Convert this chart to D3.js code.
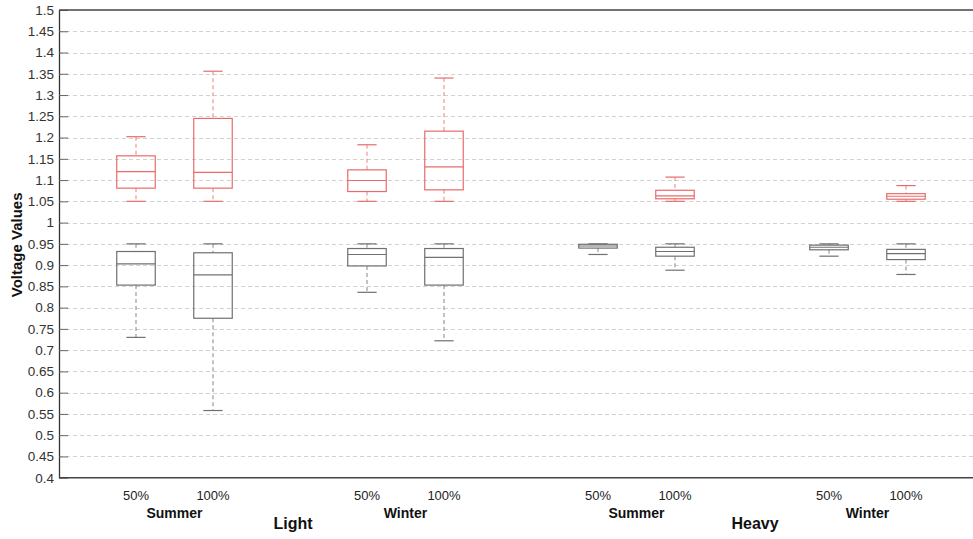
<!DOCTYPE html>
<html>
<head>
<meta charset="utf-8">
<script src="https://cdn.jsdelivr.net/npm/d3@7"></script>
<style>
  body { margin: 0; background: #fff; }
  svg { display: block; font-family: "Liberation Sans", Arial, sans-serif; }
</style>
</head>
<body>
<script>
const width = 973, height = 539;

// box positions along x (MATLAB style positions)
const positions = [1, 2, 4, 5, 7, 8, 10, 11];
const loadLabels = ["50%", "100%", "50%", "100%", "50%", "100%", "50%", "100%"];
const seasons = ["Summer", "Winter", "Summer", "Winter"];
const seasonPos = [1.5, 4.5, 7.5, 10.5];
const loadings = ["Light", "Heavy"];
const loadingPos = [3, 9];
const yTicks = d3.range(0.4, 1.5001, 0.05);

// [lower whisker, q1, median, q3, upper whisker]
const upperSeries = [
  [1.05, 1.081, 1.120, 1.157, 1.202],
  [1.05, 1.081, 1.118, 1.245, 1.356],
  [1.05, 1.073, 1.099, 1.124, 1.183],
  [1.05, 1.077, 1.131, 1.215, 1.340],
  null,
  [1.05, 1.056, 1.063, 1.076, 1.107],
  null,
  [1.05, 1.055, 1.062, 1.068, 1.087]
];
const lowerSeries = [
  [0.730, 0.853, 0.903, 0.932, 0.950],
  [0.558, 0.775, 0.877, 0.929, 0.950],
  [0.836, 0.898, 0.925, 0.939, 0.950],
  [0.722, 0.853, 0.918, 0.939, 0.950],
  [0.925, 0.940, 0.945, 0.949, 0.950],
  [0.888, 0.921, 0.932, 0.942, 0.950],
  [0.921, 0.936, 0.942, 0.947, 0.950],
  [0.878, 0.913, 0.927, 0.937, 0.950]
];

const margin = {left: 59, top: 10, bottom: 61};
const x = d3.scaleLinear().domain([0, 12]).range([margin.left, margin.left + 12 * 77]);
const y = d3.scaleLinear().domain([0.4, 1.5]).range([height - margin.bottom - 0.3, margin.top]);

const svg = d3.select("body").append("svg")
  .attr("width", width)
  .attr("height", height);

// grid
svg.append("g").selectAll("line").data(yTicks.slice(1, -1)).join("line")
  .attr("x1", x(0)).attr("x2", width)
  .attr("y1", d => Math.round(y(d)) + 0.5).attr("y2", d => Math.round(y(d)) + 0.5)
  .attr("stroke", "#d2d2d2").attr("stroke-width", 1).attr("stroke-dasharray", "4,3");

// y axis with inner ticks
const yAxis = d3.axisLeft(y).tickValues(yTicks).tickSizeInner(-9).tickSizeOuter(0)
  .tickFormat(d => d3.format("")(+d.toFixed(2)));
const ga = svg.append("g").attr("transform", `translate(${x(0)},0)`).call(yAxis);
ga.select(".domain").attr("stroke", "#333").attr("stroke-width", 1.3);
ga.selectAll(".tick line").attr("stroke", "#666");
ga.selectAll(".tick text").attr("x", -5).attr("fill", "#333").attr("font-size", 13.5);

// top and bottom frame
[1.5, 0.4].forEach(v => {
  svg.append("line").attr("x1", x(0)).attr("x2", width)
    .attr("y1", y(v)).attr("y2", y(v))
    .attr("stroke", "#444").attr("stroke-width", 1.5);
});

function drawBoxes(data, color) {
  const g = svg.append("g");
  const bw = x(0.5) - x(0), cw = x(0.25) - x(0);
  data.forEach((d, i) => {
    if (!d) return;
    const cx = x(positions[i]);
    const [lo, q1, med, q3, hi] = d;
    const b = g.append("g").attr("fill", "none").attr("stroke", color).attr("stroke-width", 1.2);
    b.append("line").attr("x1", cx).attr("x2", cx).attr("y1", y(hi)).attr("y2", y(q3))
      .attr("stroke-dasharray", "4,3").attr("opacity", 0.7);
    b.append("line").attr("x1", cx).attr("x2", cx).attr("y1", y(q1)).attr("y2", y(lo))
      .attr("stroke-dasharray", "4,3").attr("opacity", 0.7);
    b.append("line").attr("x1", cx - cw / 2).attr("x2", cx + cw / 2).attr("y1", y(hi)).attr("y2", y(hi));
    b.append("line").attr("x1", cx - cw / 2).attr("x2", cx + cw / 2).attr("y1", y(lo)).attr("y2", y(lo));
    b.append("rect").attr("x", cx - bw / 2).attr("width", bw)
      .attr("y", y(q3)).attr("height", Math.max(y(q1) - y(q3), 1));
    b.append("line").attr("x1", cx - bw / 2).attr("x2", cx + bw / 2).attr("y1", y(med)).attr("y2", y(med));
  });
}
drawBoxes(upperSeries, "#e86b6b");
drawBoxes(lowerSeries, "#707070");

// x labels
svg.append("g").selectAll("text").data(loadLabels).join("text")
  .attr("x", (d, i) => x(positions[i])).attr("y", 500)
  .attr("text-anchor", "middle").attr("font-size", 13).attr("fill", "#222").text(d => d);
svg.append("g").selectAll("text").data(seasons).join("text")
  .attr("x", (d, i) => x(seasonPos[i])).attr("y", 518)
  .attr("text-anchor", "middle").attr("font-size", 14).attr("font-weight", "bold").attr("fill", "#111").text(d => d);
svg.append("g").selectAll("text").data(loadings).join("text")
  .attr("x", (d, i) => x(loadingPos[i]) + 3).attr("y", 529)
  .attr("text-anchor", "middle").attr("font-size", 16).attr("font-weight", "bold").attr("fill", "#111").text(d => d);

// y label
svg.append("text").attr("transform", `translate(22,${y(0.95) + 1}) rotate(-90)`)
  .attr("text-anchor", "middle").attr("font-size", 15).attr("font-weight", "bold").attr("fill", "#111")
  .text("Voltage Values");
</script>
</body>
</html>
